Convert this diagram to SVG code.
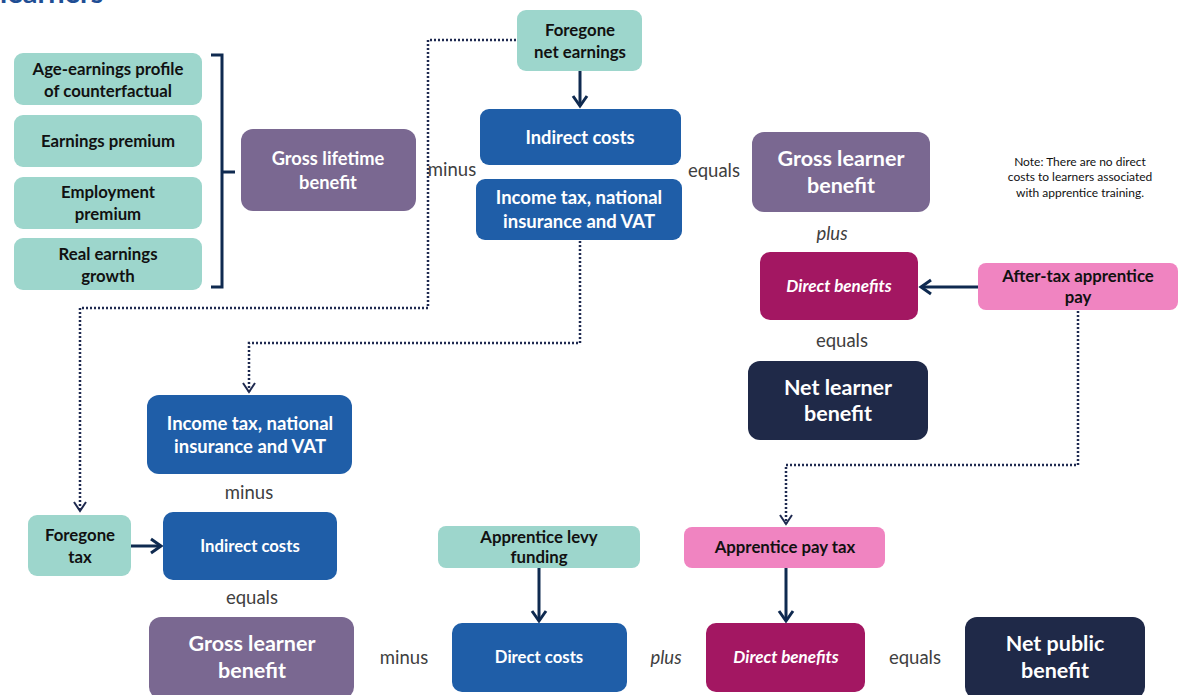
<svg xmlns="http://www.w3.org/2000/svg" width="1178" height="695" viewBox="0 0 1178 695">
<style>
.t{font-family:Lato,"Liberation Sans",sans-serif;font-weight:bold;text-anchor:middle}
.w{fill:#ffffff}
.k{fill:#111111}
.op{font-family:Lato,"Liberation Sans",sans-serif;fill:#404040;font-size:18.5px;text-anchor:middle}
.it{font-style:italic}
.teal{fill:#9dd6cc}
.blue{fill:#1f5ea8}
.purple{fill:#7a6891}
.mag{fill:#a31762}
.pink{fill:#f084c1}
.navy{fill:#1f2948}
.solid{fill:none;stroke:#0f2a50;stroke-width:3}
.dot{fill:none;stroke:#1f2a50;stroke-width:2.5;stroke-dasharray:2 2}
</style>
<defs>
<marker id="ah" markerUnits="userSpaceOnUse" markerWidth="16" markerHeight="18" refX="13" refY="9" orient="auto">
<path d="M3,2 L13,9 L3,16" fill="none" stroke="#0f2a50" stroke-width="3"/>
</marker>
<marker id="ahd" markerUnits="userSpaceOnUse" markerWidth="14" markerHeight="16" refX="11" refY="8" orient="auto">
<path d="M2,2 L11,8 L2,14" fill="none" stroke="#1f2a50" stroke-width="2"/>
</marker>
</defs>

<text x="0" y="3" font-family="Lato,'Liberation Sans',sans-serif" font-weight="bold" font-size="29" fill="#1f4e94">learners</text>

<g id="connectors">
<path class="solid" d="M211,55 H222 V287 H211 M222,172 H235"/>
<path class="dot" d="M516,40 H428 V308 H80 V511" marker-end="url(#ahd)"/>
<path class="dot" d="M580,241 V343 H249 V392" marker-end="url(#ahd)"/>
<path class="dot" d="M1078,311 V465 H786 V524" marker-end="url(#ahd)"/>
<path class="solid" d="M580,71 V106" marker-end="url(#ah)"/>
<path class="solid" d="M978,287 H921" marker-end="url(#ah)"/>
<path class="solid" d="M131,546 H161" marker-end="url(#ah)"/>
<path class="solid" d="M539,568 V621" marker-end="url(#ah)"/>
<path class="solid" d="M786,568 V621" marker-end="url(#ah)"/>
</g>

<g id="age-earnings"><rect class="teal" x="14" y="53" width="188" height="52" rx="9"/>
<text class="t k" font-size="16.8"><tspan x="108" y="75">Age-earnings profile</tspan><tspan x="108" y="97">of counterfactual</tspan></text></g>
<g id="earnings-premium"><rect class="teal" x="14" y="115" width="188" height="52" rx="9"/>
<text class="t k" font-size="16.8" x="108" y="147">Earnings premium</text></g>
<g id="employment-premium"><rect class="teal" x="14" y="177" width="188" height="52" rx="9"/>
<text class="t k" font-size="16.8"><tspan x="108" y="198">Employment</tspan><tspan x="108" y="220">premium</tspan></text></g>
<g id="real-earnings"><rect class="teal" x="14" y="238" width="188" height="52" rx="9"/>
<text class="t k" font-size="16.8"><tspan x="108" y="260">Real earnings</tspan><tspan x="108" y="282">growth</tspan></text></g>

<g id="gross-lifetime"><rect class="purple" x="241" y="129" width="175" height="82" rx="12"/>
<text class="t w" font-size="18.3"><tspan x="328" y="165">Gross lifetime</tspan><tspan x="328" y="189">benefit</tspan></text></g>

<g id="foregone-net"><rect class="teal" x="517" y="10" width="125" height="61" rx="9"/>
<text class="t k" font-size="16.8"><tspan x="580" y="36">Foregone</tspan><tspan x="580" y="58">net earnings</tspan></text></g>

<g id="indirect-top"><rect class="blue" x="480" y="109" width="201" height="56" rx="9"/>
<text class="t w" font-size="18.3" x="580" y="144">Indirect costs</text></g>
<g id="tax-top"><rect class="blue" x="476" y="179" width="206" height="61" rx="9"/>
<text class="t w" font-size="18.5"><tspan x="579" y="204">Income tax, national</tspan><tspan x="579" y="228">insurance and VAT</tspan></text></g>

<text class="op" x="452" y="176">minus</text>
<text class="op" x="714" y="177">equals</text>

<g id="gross-learner-top"><rect class="purple" x="752" y="132" width="178" height="80" rx="12"/>
<text class="t w" font-size="21.5"><tspan x="841" y="166">Gross learner</tspan><tspan x="841" y="193">benefit</tspan></text></g>

<g id="note"><text font-family="Lato,'Liberation Sans',sans-serif" font-size="12" fill="#111" text-anchor="middle"><tspan x="1080" y="166">Note: There are no direct</tspan><tspan x="1080" y="181">costs to learners associated</tspan><tspan x="1080" y="197">with apprentice training.</tspan></text></g>

<text class="op it" x="832" y="240">plus</text>

<g id="direct-benefits-top"><rect class="mag" x="760" y="252" width="158" height="68" rx="10"/>
<text class="t w it" font-size="17" x="839" y="292">Direct benefits</text></g>

<g id="after-tax"><rect class="pink" x="978" y="263" width="200" height="47" rx="8"/>
<text class="t k" font-size="16.8"><tspan x="1078" y="282">After-tax apprentice</tspan><tspan x="1078" y="303">pay</tspan></text></g>

<text class="op" x="842" y="347">equals</text>

<g id="net-learner"><rect class="navy" x="748" y="361" width="180" height="79" rx="12"/>
<text class="t w" font-size="21.5"><tspan x="838" y="395">Net learner</tspan><tspan x="838" y="421">benefit</tspan></text></g>

<g id="tax-bottom"><rect class="blue" x="147" y="395" width="205" height="79" rx="12"/>
<text class="t w" font-size="18.5"><tspan x="250" y="430">Income tax, national</tspan><tspan x="250" y="453">insurance and VAT</tspan></text></g>

<text class="op" x="249" y="499">minus</text>

<g id="foregone-tax"><rect class="teal" x="28" y="515" width="103" height="61" rx="9"/>
<text class="t k" font-size="16.8"><tspan x="80" y="541">Foregone</tspan><tspan x="80" y="563">tax</tspan></text></g>

<g id="indirect-bottom"><rect class="blue" x="163" y="512" width="174" height="68" rx="10"/>
<text class="t w" font-size="16.7" x="250" y="552">Indirect costs</text></g>

<text class="op" x="252" y="604">equals</text>

<g id="gross-learner-bottom"><rect class="purple" x="149" y="617" width="205" height="82" rx="12"/>
<text class="t w" font-size="21.5"><tspan x="252" y="651">Gross learner</tspan><tspan x="252" y="678">benefit</tspan></text></g>

<text class="op" x="404" y="664">minus</text>

<g id="levy"><rect class="teal" x="438" y="526" width="202" height="42" rx="8"/>
<text class="t k" font-size="16.8"><tspan x="539" y="543">Apprentice levy</tspan><tspan x="539" y="563">funding</tspan></text></g>

<g id="direct-costs"><rect class="blue" x="452" y="623" width="175" height="69" rx="10"/>
<text class="t w" font-size="16.7" x="539" y="663">Direct costs</text></g>

<text class="op it" x="666" y="664">plus</text>

<g id="pay-tax"><rect class="pink" x="684" y="527" width="201" height="41" rx="8"/>
<text class="t k" font-size="16.8" x="785" y="553">Apprentice pay tax</text></g>

<g id="direct-benefits-bottom"><rect class="mag" x="706" y="623" width="159" height="69" rx="10"/>
<text class="t w it" font-size="17" x="786" y="663">Direct benefits</text></g>

<text class="op" x="915" y="664">equals</text>

<g id="net-public"><rect class="navy" x="965" y="617" width="180" height="82" rx="12"/>
<text class="t w" font-size="21.5"><tspan x="1055" y="651">Net public</tspan><tspan x="1055" y="678">benefit</tspan></text></g>
</svg>
